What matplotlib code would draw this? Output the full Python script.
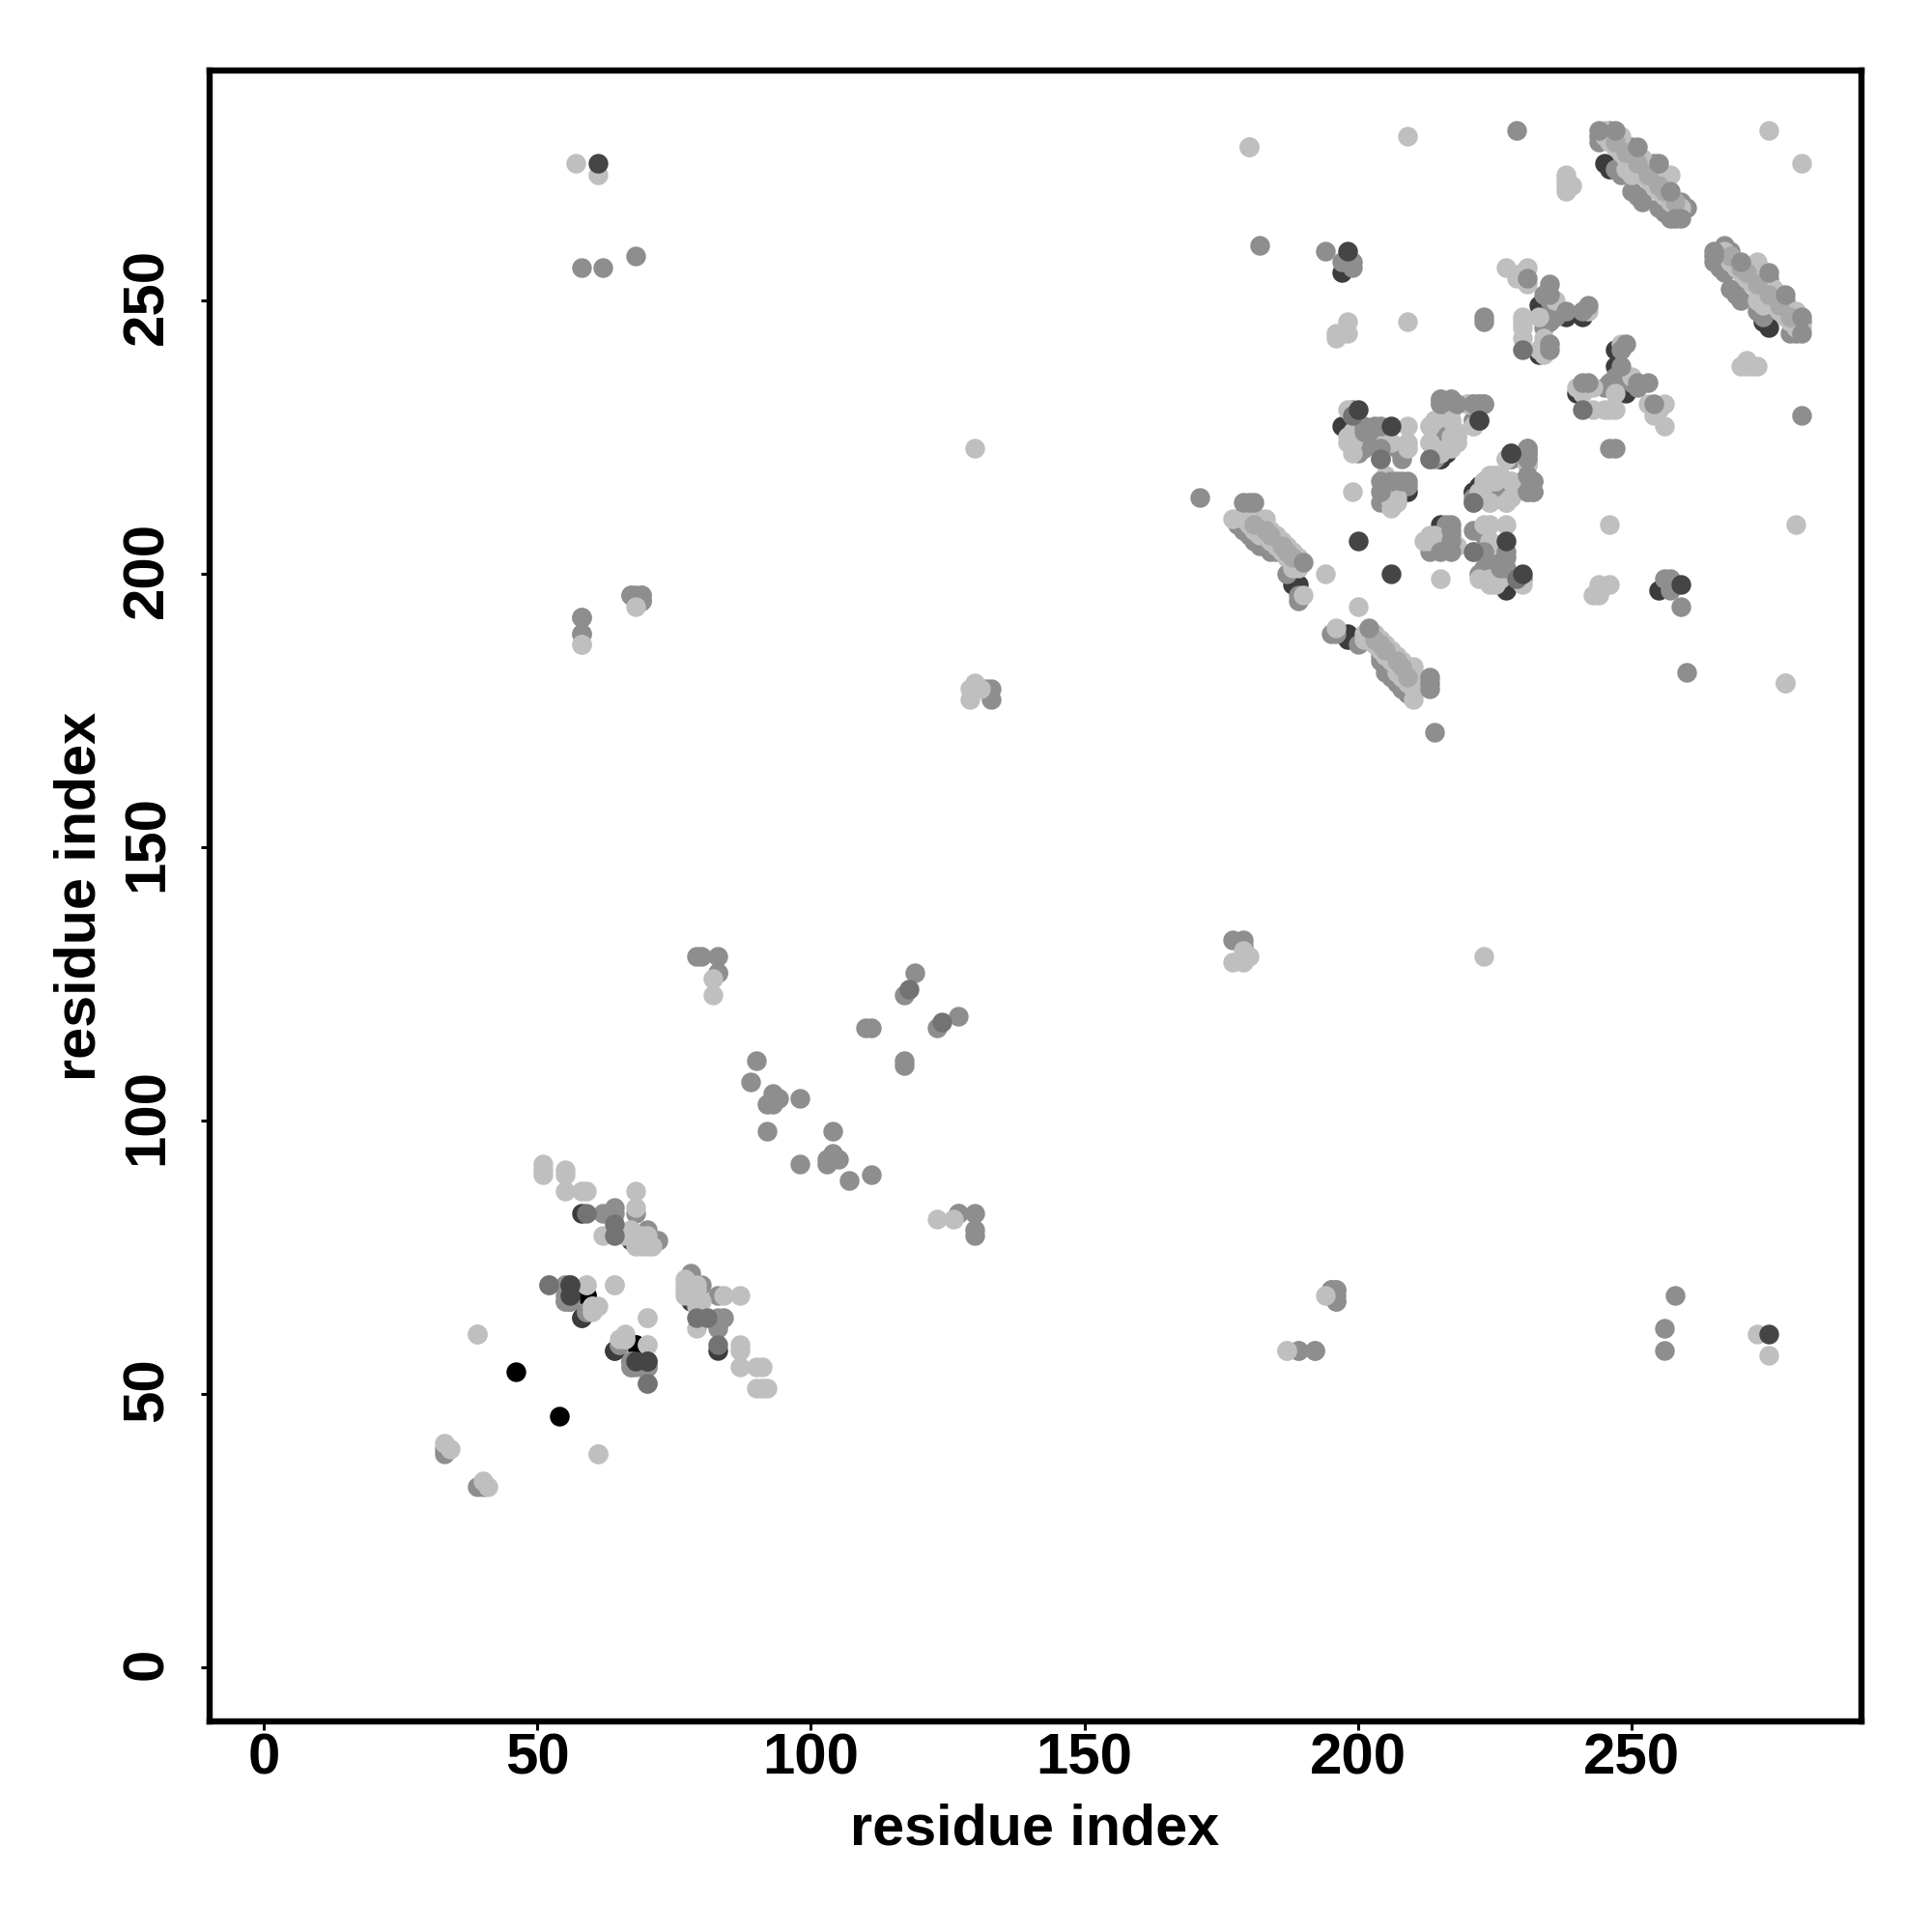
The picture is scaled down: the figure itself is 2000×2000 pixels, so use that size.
import matplotlib
matplotlib.use('Agg')
import matplotlib.pyplot as plt
from matplotlib.transforms import ScaledTranslation
import numpy as np

plt.rcParams['font.family'] = ['Liberation Sans', 'DejaVu Sans']
plt.rcParams['font.weight'] = 'bold'

ticks = [0, 50, 100, 150, 200, 250]
xlabel = 'residue index'
ylabel = 'residue index'

# contact pairs (i<j), the map is symmetric so each one is drawn twice
black = [(46,54),(59,68),(68,59)]

under_dark = [(58,83),(56,67),(58,64),(64,58),(68,56),(67,78),(245,275),(254,273),(255,273),
    (233,249),(234,249),(238,247),(241,247),(233,240),(234,242),(197,227),(208,223),
    (214,222),(215,221),(216,222),(217,231),(221,215),(222,216),(230,216),(209,215),
    (197,255),(188,198),(189,197),(189,198),(198,256),(251,275),(246,274),(258,267)]

gray = [(58,256),(62,256),(68,258),(58,192),(58,189),(67,196),(69,196),(69,195),
    (133,179),(133,177),(132,179),(79,130),(80,130),(83,130),(83,127),(119,127),(117,123),
    (110,117),(111,117),(90,111),(89,107),(93,105),(92,103),(94,104),(98,104),(92,98),(103,93),
    (189,58),(192,58),(196,67),(196,68),(196,69),(195,69),(83,127),
    (55,70),(62,83),(64,84),(64,83),(64,80),(68,83),(70,80),(72,78),
    (55,68),(55,67),(59,65),(65,59),(67,55),(69,55),(70,55),(70,52),(67,56),(33,39),(33,40),
    (182,260),(229,281),(223,247),(223,246),(194,259),(197,257),(199,257),(198,257),(199,256),
    (171,214),(178,210),(178,209),(179,208),(180,207),(181,206),
    (182,205),(183,205),(184,204),(185,204),(187,200),(189,196),(189,195),(189,202),
    (244,280),(244,279),(246,281),(250,278),(254,275),(248,273),(247,274),
    (250,270),(251,269),(252,268),(255,267),(256,270),(257,265),(256,266),(258,266),
    (235,250),(235,247),(236,247),(234,245),(235,246),
    (199,230),(200,222),(201,223),(204,221),(202,226),(203,227),
    (207,223),(208,221),(199,229),(203,225),
    (216,231),(221,228),(215,228),
    (214,227),(214,224),(215,225),(215,222),(213,221),(214,221),(216,226),
    (206,216),(209,216),(208,216),(204,213),(205,214),
    (205,216),(207,217),(207,216),(206,215),(206,214),
    (228,221),(231,221),(230,217),(231,215),(224,214),
    (227,216),(228,215),(226,215),(231,222),(231,216),(226,216),
    (259,268),(260,267)]

light = [(57,275),(61,273),(58,187),(68,194),(130,223),(129,177),(129,179),(130,180),(131,179),
    (82,126),(82,123),(187,58),(39,61),(33,41),(34,40),
    (51,92),(51,91),(51,90),(55,91),(55,90),(55,87),(58,87),(59,87),(68,87),(68,84),(62,79),
    (68,77),(70,77),(71,77),(69,77),(67,80),(68,78),(69,78),(70,78),(68,79),(69,79),(67,79),(70,79),(66,79),
    (59,70),(64,70),(60,66),(61,66),(70,64),(66,60),(65,60),(70,59),(61,39),
    (180,278),(209,280),(275,281),(209,246),(196,243),(196,244),(198,246),(198,244),(197,244),
    (199,215),(194,200),(238,273),(238,272),(238,271),(238,270),(239,271),(278,180),
    (177,210),(179,210),(180,210),(181,210),(182,210),(183,210),(180,209),(181,209),(182,209),(183,209),
    (181,208),(182,208),(183,208),(184,208),(182,207),(183,207),(184,207),(185,207),(184,206),(185,206),
    (186,206),(185,205),(186,205),(187,205),(186,204),(187,204),(188,204),(187,203),(188,203),(189,203),
    (188,202),(189,201),(188,201),(190,196),
    (245,281),(246,280),(245,280),(248,280),(246,279),(247,279),(247,278),(248,278),(248,277),(249,277),
    (249,276),(250,276),(250,275),(251,274),(252,274),(252,276),(252,273),(253,273),(253,272),
    (254,272),(254,271),(255,271),(255,270),(256,269),(257,269),(257,268),(258,268),(259,267),
    (257,273),(253,274),(252,275),(249,274),(250,273),
    (227,256),(231,256),(229,254),(230,255),(231,253),(236,250),(230,247),(230,246),(230,245),
    (233,247),(234,243),(233,241),(234,240),(230,243),(242,248),
    (198,230),(198,225),(198,224),(199,222),(199,226),(199,224),(206,224),(209,227),(209,224),(209,223),(205,224),
    (220,231),(221,227),(213,227),(214,228),(217,228),(218,226),(213,224),(218,225),(218,224),(217,223),
    (205,218),(206,213),(207,213),(206,212),(207,214),
    (227,221),(231,220),(222,215),(223,216),(224,218),(225,218),(224,217),(225,217),(224,213),
    (227,213),(228,217),(228,214)]

# in-between tone inside the two long strips
strip_mid = [(181,209),(183,208),(184,207),(186,205),(187,204),(188,203),
    (247,279),(249,277),(251,275),(253,273),(255,271),(256,270),(258,268)]

gray_top = [(179,213),(180,213),(181,213),(190,202),(244,281),(247,281),(251,278),(255,275),
    (257,270),(258,265),(259,265),(231,254),(235,253),(234,251),(235,251),(238,248),(241,248),
    (242,249),(235,241),(235,242),(201,227),(201,226),(204,227),(204,223),
    (215,232),(217,232),(215,231),(218,231),(221,231),(223,231),(222,231),
    (204,217),(206,217),(208,217),(209,217),(204,215),
    (231,223),(232,217),(232,215)]

mid = [(52,70),(59,83),(64,79),(64,81),(118,124),(230,241),(221,213),(199,229),(204,221)]

dark_top = [(200,230),(61,275),(198,259),(206,227),(222,228),(228,222),(200,206),
    (56,70),(70,56),(56,68)]

layers = [(black, '#000000'), (under_dark, '#3c3c3c'), (gray, '#8e8e8e'), (light, '#bfbfbf'),
    (strip_mid, '#a8a8a8'), (gray_top, '#8e8e8e'), (mid, '#737373'), (dark_top, '#454545')]

fig = plt.figure(figsize=(10, 10), dpi=200)
ax = fig.add_axes([217/2000, 218/2000, 1710/2000, 1709/2000])

for group, shade in layers:
    p = np.array(group)
    ax.scatter(np.r_[p[:, 0], p[:, 1]], np.r_[p[:, 1], p[:, 0]], s=54, c=shade, linewidths=0, zorder=3)

ax.set_xlim(-9.9, 292)
ax.set_ylim(-9.9, 292)
ax.set_xticks(ticks)
ax.set_yticks(ticks)
ax.set_yticklabels(ticks, rotation=90, va='center')
ax.tick_params(axis='x', length=3.2, width=1.1, labelsize=21.6, pad=1)
ax.tick_params(axis='y', length=3.2, width=1.1, labelsize=21.6, pad=10)
for label in ax.get_yticklabels():
    label.set_transform(label.get_transform() + ScaledTranslation(0, 4/200, fig.dpi_scale_trans))
for s in ax.spines.values():
    s.set_linewidth(2.3)

fig.text(1071/2000, 1-1894/2000, xlabel, ha='center', va='center', fontsize=21.4, fontweight='bold')
fig.text(83/2000, 1-928/2000, ylabel, ha='center', va='center', rotation=90, fontsize=21.4, fontweight='bold')

fig.savefig('out.png', dpi=200)
